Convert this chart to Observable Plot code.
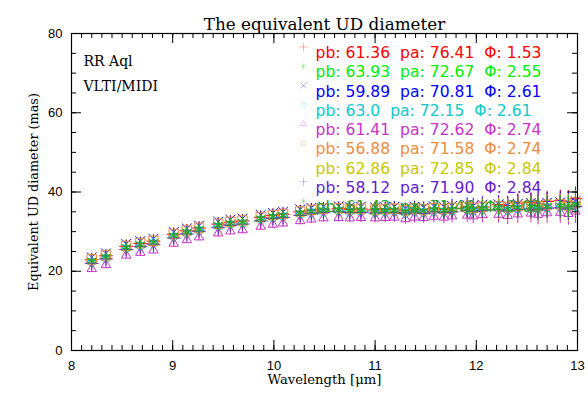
<!DOCTYPE html>
<html>
<head>
<meta charset="utf-8">
<script src="https://cdn.jsdelivr.net/npm/d3@7"></script>
<script src="https://cdn.jsdelivr.net/npm/@observablehq/plot@0.6"></script>
<style>
  html, body { margin: 0; padding: 0; background: #fff; }
  #chart svg text { white-space: pre; }
</style>
</head>
<body>
<div id="chart"></div>
<script>
// ---- data ----
const wavelength = [8.20, 8.34, 8.54, 8.68, 8.81, 9.01, 9.14, 9.26, 9.45, 9.57, 9.69, 9.87, 9.99, 10.09, 10.26, 10.37, 10.49, 10.64, 10.75, 10.86, 11.00, 11.10, 11.19, 11.30, 11.39, 11.48, 11.58, 11.68, 11.76, 11.91, 11.97, 12.06, 12.22, 12.31, 12.41, 12.54, 12.61, 12.70, 12.83, 12.91, 12.98];
const errBar = [0.8, 0.8, 0.8, 0.9, 0.8, 0.9, 0.9, 0.9, 1.0, 0.9, 0.9, 1.0, 1.0, 1.0, 1.0, 1.1, 1.0, 1.1, 1.1, 1.2, 1.2, 1.2, 1.3, 1.3, 1.4, 1.4, 1.5, 1.6, 1.7, 1.8, 1.9, 2.0, 2.1, 2.2, 2.3, 2.4, 2.6, 2.6, 2.7, 2.9, 3.0];

const udRed     = [22.9, 23.9, 26.3, 27.0, 27.6, 29.3, 30.2, 30.9, 31.9, 32.4, 32.7, 33.6, 34.1, 34.4, 35.0, 35.4, 35.7, 35.8, 35.6, 35.7, 35.5, 35.6, 35.7, 35.3, 35.7, 35.5, 35.8, 35.6, 35.9, 36.1, 35.9, 36.2, 36.8, 36.6, 37.2, 37.4, 37.0, 37.6, 37.8, 37.5, 38.3];
const udGreen   = [22.7, 23.7, 26.1, 26.8, 27.4, 29.1, 30.0, 30.7, 31.7, 32.2, 32.5, 33.4, 33.9, 34.2, 34.8, 35.2, 35.5, 35.6, 35.4, 35.5, 35.3, 35.4, 35.5, 35.1, 35.5, 35.3, 35.6, 35.4, 35.7, 35.9, 35.7, 36.0, 36.1, 35.8, 36.2, 36.4, 36.1, 36.5, 36.6, 36.3, 36.9];
const udBlue    = [23.5, 24.5, 26.9, 27.6, 28.2, 29.9, 30.8, 31.5, 32.5, 33.0, 33.3, 34.2, 34.7, 35.0, 35.6, 36.0, 36.3, 36.4, 36.2, 36.3, 36.1, 36.2, 36.3, 35.9, 36.3, 36.1, 36.4, 36.2, 36.5, 36.7, 36.5, 36.8, 36.9, 36.6, 37.0, 37.2, 36.9, 37.3, 37.4, 37.1, 37.7];
const udCyan    = [22.2, 23.2, 25.6, 26.3, 26.9, 28.6, 29.5, 30.2, 31.2, 31.7, 32.0, 32.9, 33.4, 33.7, 34.3, 34.7, 35.0, 35.1, 34.9, 35.0, 34.8, 34.9, 35.0, 34.6, 35.0, 34.8, 35.1, 34.9, 35.2, 35.4, 35.2, 35.5, 35.6, 35.3, 35.7, 35.9, 35.6, 36.0, 36.1, 35.8, 36.4];
const udMagenta = [20.6, 21.6, 24.0, 24.7, 25.3, 27.0, 27.9, 28.6, 29.6, 30.1, 30.4, 31.3, 31.8, 32.1, 32.7, 33.1, 33.4, 33.5, 33.4, 33.5, 33.4, 33.5, 33.6, 33.2, 33.6, 33.5, 33.8, 33.6, 33.9, 34.1, 33.9, 34.2, 34.3, 34.0, 34.4, 34.6, 34.3, 34.7, 34.8, 34.5, 35.1];
const udOrange  = [23.0, 24.0, 26.4, 27.1, 27.7, 29.4, 30.3, 31.0, 32.0, 32.5, 32.8, 33.7, 34.2, 34.5, 35.1, 35.5, 35.8, 35.9, 35.7, 35.8, 35.6, 35.7, 35.8, 35.4, 35.8, 35.6, 35.9, 35.7, 36.0, 36.2, 36.0, 36.3, 36.4, 36.1, 36.5, 36.7, 36.4, 36.8, 36.9, 36.6, 37.4];
const udYellow  = [21.8, 22.8, 25.2, 25.9, 26.5, 28.2, 29.1, 29.8, 30.8, 31.3, 31.6, 32.5, 33.0, 33.3, 33.9, 34.3, 34.6, 34.7, 34.5, 34.6, 34.4, 34.5, 34.6, 34.2, 34.6, 34.4, 34.7, 34.5, 34.8, 35.0, 34.8, 35.1, 35.2, 34.9, 35.3, 35.5, 35.2, 35.6, 35.7, 35.4, 36.0];
const udPurple  = [22.0, 23.1, 25.5, 26.2, 26.8, 28.4, 29.4, 30.1, 31.0, 31.6, 31.9, 32.7, 33.3, 33.6, 34.1, 34.6, 34.8, 35.0, 34.8, 34.8, 34.7, 34.8, 34.8, 34.5, 34.9, 34.6, 35.0, 34.8, 35.0, 35.3, 35.1, 35.3, 35.5, 35.2, 35.6, 35.7, 35.5, 35.9, 36.0, 35.7, 36.3];
const udDkGreen = [22.6, 23.6, 26.0, 26.7, 27.3, 29.0, 29.9, 30.6, 31.6, 32.1, 32.4, 33.3, 33.8, 34.1, 34.7, 35.1, 35.4, 35.5, 35.3, 35.4, 35.2, 35.3, 35.4, 35.0, 35.4, 35.2, 35.5, 35.3, 35.6, 35.8, 35.6, 35.9, 36.0, 35.7, 36.1, 36.3, 36.0, 36.4, 36.5, 36.2, 36.8];

const pbValues  = ["61.36", "63.93", "59.89", "63.0", "61.41", "56.88", "62.86", "58.12", "61.43"];
const paValues  = ["76.41", "72.67", "70.81", "72.15", "72.62", "71.58", "72.85", "71.90", "71.46"];
const phiValues = ["1.53", "2.55", "2.61", "2.61", "2.74", "2.74", "2.84", "2.84", "3.03"];
const seriesColors  = ["#ff0000", "#00ee00", "#0000ff", "#10c8c8", "#c832c8", "#f08c3c", "#c8c800", "#6420d0", "#32a032"];
const seriesSymbols = ["plus", "asterisk", "times", "diamond2", "triangle2", "square2", "circle", "plus", "asterisk"];
const seriesValues  = [udRed, udGreen, udBlue, udCyan, udMagenta, udOrange, udYellow, udPurple, udDkGreen];

const xTicks = [8, 9, 10, 11, 12, 13];
const xMinor = d3.range(80, 131).map(d => d / 10);
const yTicks = [0, 20, 40, 60, 80];
const yMinor = d3.range(0, 81, 5);

// ---- layout ----
const W = 588, H = 395;
const mL = 71, mR = 11, mT = 33, mB = 45;
const fw = W - mL - mR, fh = H - mT - mB;
const serif = "DejaVu Serif";
const sans = "Liberation Sans";

const legendStep = 19.25;
function legendMarks(i) {
  const label = `pb: ${pbValues[i]} \u00a0pa: ${paValues[i]} \u00a0\u03a6: ${phiValues[i]}`;
  const out = [Plot.text([label], {
    frameAnchor: "top-left", dx: 244, dy: 13.5 + i * legendStep,
    text: d => d, fill: seriesColors[i], textAnchor: "start",
    fontFamily: "DejaVu Sans", fontSize: 15.6
  })];
  if (seriesSymbols[i] !== "circle") {
    out.push(Plot.dot([label], {
      frameAnchor: "top-left", dx: 232, dy: 13.5 + i * legendStep,
      symbol: seriesSymbols[i], r: 2.8, stroke: seriesColors[i], fill: "none",
      strokeOpacity: 0.3, strokeWidth: 1
    }));
  }
  return out;
}
function seriesMarks(s) {
  const vals = seriesValues[s];
  const rows = wavelength.map((w, j) => ({w, v: vals[j], e: errBar[j]}));
  const out = [Plot.ruleX(rows, {x: "w", y1: d => d.v - d.e, y2: d => d.v + d.e, stroke: seriesColors[s], strokeWidth: 1})];
  if (seriesSymbols[s] === "circle") {
    out.push(Plot.dot(rows, {x: "w", y: "v", r: 1, fill: seriesColors[s]}));
  } else {
    const r = seriesSymbols[s] === "square2" ? 6 : (s === 8 ? 5 : 4.5);
    out.push(Plot.dot(rows, {x: "w", y: "v", symbol: seriesSymbols[s], r, stroke: seriesColors[s], fill: "none", strokeWidth: s === 8 ? 1.3 : 1}));
  }
  return out;
}

const marks = [];
for (let i = 0; i < 8; i++) marks.push(...legendMarks(i));
for (let s = 0; s < 8; s++) marks.push(...seriesMarks(s));
marks.push(...legendMarks(8));
marks.push(...seriesMarks(8));

// frame and inward ticks
marks.push(
  Plot.frame({stroke: "black", strokeWidth: 1.2}),
  Plot.tickX(xTicks, {x: d => d, insetTop: fh - 10, stroke: "black"}),
  Plot.tickX(xTicks, {x: d => d, insetBottom: fh - 10, stroke: "black"}),
  Plot.tickX(xMinor, {x: d => d, insetTop: fh - 5, stroke: "black"}),
  Plot.tickX(xMinor, {x: d => d, insetBottom: fh - 5, stroke: "black"}),
  Plot.tickY(yTicks, {y: d => d, insetRight: fw - 10, stroke: "black"}),
  Plot.tickY(yTicks, {y: d => d, insetLeft: fw - 10, stroke: "black"}),
  Plot.tickY(yMinor, {y: d => d, insetRight: fw - 5, stroke: "black"}),
  Plot.tickY(yMinor, {y: d => d, insetLeft: fw - 5, stroke: "black"}),
  Plot.axisX({ticks: xTicks, tickSize: 0, tickPadding: 10, tickFormat: d => String(d), label: null, fontSize: 13, fontFamily: sans}),
  Plot.axisY({ticks: yTicks, tickSize: 0, tickPadding: 9, tickFormat: d => String(d), label: null, fontSize: 13, fontFamily: sans}),
  Plot.text(["The equivalent UD diameter"], {frameAnchor: "top", dy: -15, text: d => d, fontFamily: serif, fontSize: 16.8, fill: "black"}),
  Plot.text(["Wavelength [\u03bcm]"], {frameAnchor: "bottom", dy: 33, text: d => d, fontFamily: serif, fontSize: 13.2, fill: "black"}),
  Plot.text(["Equivalent UD diameter (mas)"], {frameAnchor: "left", dx: -38, rotate: -90, textAnchor: "middle", text: d => d, fontFamily: serif, fontSize: 12.8, fill: "black"}),
  Plot.text(["RR Aql"], {frameAnchor: "top-left", dx: 12, dy: 23, text: d => d, textAnchor: "start", fontFamily: serif, fontSize: 14, fill: "black"}),
  Plot.text(["VLTI/MIDI"], {frameAnchor: "top-left", dx: 12, dy: 48, text: d => d, textAnchor: "start", fontFamily: serif, fontSize: 14, fill: "black"})
);

const chart = Plot.plot({
  width: W, height: H,
  marginLeft: mL, marginRight: mR, marginTop: mT, marginBottom: mB,
  x: {domain: [8, 13]},
  y: {domain: [0, 80]},
  style: {background: "#fff", color: "black", fontFamily: sans, overflow: "visible"},
  marks
});
document.getElementById("chart").appendChild(chart);
</script>
</body>
</html>
